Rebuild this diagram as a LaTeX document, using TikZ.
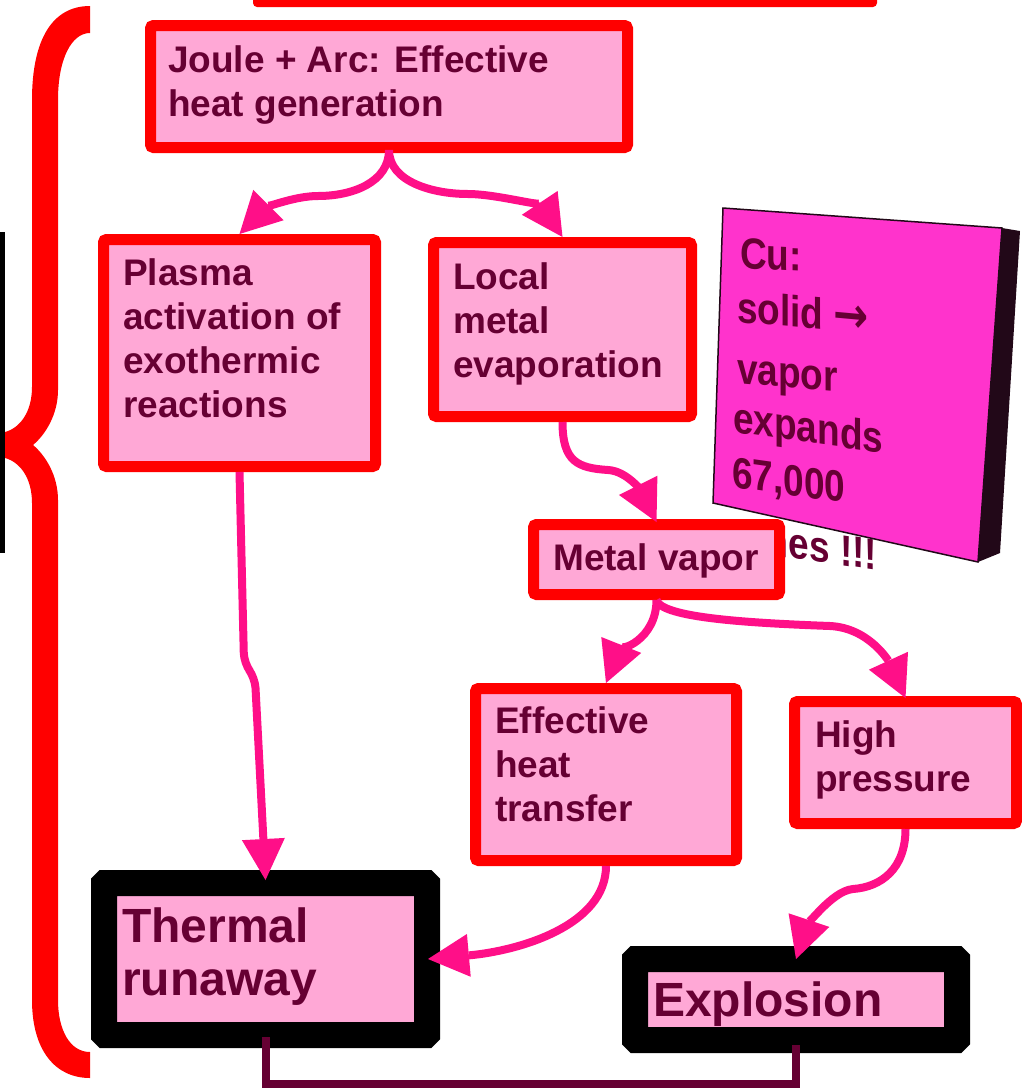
\documentclass[tikz,border=0pt]{standalone}
\usepackage{fontspec}
\usepackage{graphicx}
\setmainfont{Liberation Sans}
\newfontfamily\symfont{DejaVu Sans}
\usetikzlibrary{calc,arrows.meta}
\definecolor{boxred}{HTML}{FF0000}
\definecolor{boxpink}{HTML}{FFA8D6}
\definecolor{txtc}{HTML}{660033}
\definecolor{arrowpink}{HTML}{FF0F88}
\definecolor{cumag}{HTML}{FF33CC}
\definecolor{cudark}{HTML}{220818}
\newcommand{\tallt}[1]{\scalebox{1}[1.18]{#1}}
\tikzset{
  rbox/.style={draw=boxred, line width=11pt, fill=boxpink, rounded corners=3pt, inner sep=0pt},
  bbox/.style={draw=black, line width=26pt, fill=boxpink, rounded corners=1pt, inner sep=0pt},
  tx/.style={inner sep=0pt, anchor=north west, align=left, text=txtc, font=\fontsize{37}{44}\selectfont\bfseries},
  bigtx/.style={inner sep=0pt, anchor=north west, align=left, text=txtc, font=\fontsize{48}{53}\selectfont\bfseries},
  cutx/.style={inner sep=0pt, anchor=base west, yslant=#1, text=txtc, font=\fontsize{37}{44}\selectfont\bfseries},
  parrow/.style={draw=arrowpink, line width=8pt, -{Triangle[length=41pt,width=43pt,line width=0pt]}},
  mline/.style={draw=txtc, line width=8pt}
}
\begin{document}
\begin{tikzpicture}[x=1pt,y=-1pt]
\useasboundingbox (0,0) rectangle (1021,1090);
% left brace
\fill[boxred] (90,6) .. controls (52,6) and (32,40) .. (32,100) -- (32,387)
  .. controls (32,412) and (20,428) .. (5,432) -- (5,458)
  .. controls (20,462) and (32,478) .. (32,503) -- (32,1000)
  .. controls (32,1050) and (55,1078) .. (90,1078) -- (90,1052)
  .. controls (70,1052) and (58,1030) .. (58,1000) -- (58,500)
  .. controls (58,475) and (45,455) .. (33,445)
  .. controls (45,435) and (58,415) .. (58,390) -- (58,100)
  .. controls (58,58) and (72,33) .. (90,33) -- cycle;
% left black bar
\fill[black] (0,232) rectangle (5,553);
% top cut-off box edge
\fill[boxred, rounded corners=4pt] (253,-20) rectangle (877,7);
% Cu sticky note
\fill[cudark] (1002,228) -- (1020,231) -- (1000,553) -- (978,562) -- cycle;
\filldraw[fill=cumag, draw=cudark, line width=1.5pt] (723,208) -- (1002,228) -- (978,562) -- (713,503) -- cycle;
\node[cutx=-0.05] (c1) at (740,268) {\tallt{Cu:}};
\node[cutx=-0.09] (c2) at (737,322) {\tallt{solid {\symfont\bfseries\fontsize{42}{42}\selectfont →}}};
\node[cutx=-0.09] (c3) at (737,383) {\tallt{vapor}};
\node[cutx=-0.14] (c4) at (733,432) {\tallt{expands}};
\node[cutx=-0.14] (c5) at (732,487) {\tallt{67,000}};
\node[cutx=-0.14] (c6) at (733,550) {\tallt{times !!!}};
% boxes
\node[rbox, minimum width=477pt, minimum height=122pt] (j) at (389,86.5) {};
\node[rbox, minimum width=272pt, minimum height=227pt] (p) at (239.5,353) {};
\node[rbox, minimum width=258pt, minimum height=174pt] (l) at (562.5,329.5) {};
\node[rbox, minimum width=246pt, minimum height=70pt] (m) at (656.5,559.5) {};
\node[rbox, minimum width=261pt, minimum height=172pt] (e) at (606,774.5) {};
\node[rbox, minimum width=222pt, minimum height=122pt] (h) at (905.5,762.5) {};
\node[bbox, minimum width=323pt, minimum height=152pt] (t) at (265.5,959) {};
\node[bbox, minimum width=322pt, minimum height=81pt] (x) at (796,999.5) {};
% texts
\node[tx] (jt) at (168,45) {\rule{0pt}{27pt}Joule + Arc: Effective\\heat generation};
\node[tx] (pt) at (123,258) {\rule{0pt}{27pt}Plasma\\activation of\\exothermic\\reactions};
\node[tx] (lt) at (453,262) {\rule{0pt}{27pt}Local\\metal\\evaporation};
\node[tx] (mt) at (553,543) {\rule{0pt}{27pt}Metal vapor};
\node[tx] (et) at (495,706) {\rule{0pt}{27pt}Effective\\heat\\transfer};
\node[tx] (ht) at (815,720) {\rule{0pt}{27pt}High\\pressure};
\node[bigtx] (tt) at (122,907) {\rule{0pt}{35pt}Thermal\\runaway};
\node[bigtx] (xt) at (653,981) {\rule{0pt}{35pt}Explosion};
% connectors
\draw[parrow] ($(j.south)+(0,-3)$) .. controls +(0,32) and +(35,0) .. (318,196) .. controls +(-25,0) and +(25,-25) .. (p.north);
\draw[parrow] ($(j.south)+(0,-3)$) .. controls +(0,32) and +(-35,0) .. (468,194) .. controls +(28,0) and +(-20,-30) .. (l.north);
\draw[parrow] (l.south) .. controls +(0,40) and +(-30,-2) .. (608,470) .. controls +(20,1) and +(-14,-28) .. ($(m.north)+(0,3)$);
\draw[parrow] (m.south) .. controls +(0,40) and +(12,-30) .. (e.north);
\draw[parrow] (m.south) .. controls +(5,18) and +(-80,-3) .. (830,626) .. controls +(40,2) and +(-16,-35) .. ($(h.north)+(0,2)$);
\draw[parrow, rounded corners=10pt] (p.south) -- (244,663) -- (255,678) -- ($(t.north)+(0,10)$);
\draw[parrow] (e.south) .. controls +(0,60) and +(90,-8) .. ($(t.east)+(-12,0)$);
\draw[parrow] (h.south) .. controls +(0,40) and +(28,-2) .. (853,889) .. controls +(-22,2) and +(10,-30) .. ($(x.north)+(0,13)$);
\draw[mline] ($(t.south)+(0,-11)$) -- ++(0,47) -| ($(x.south)+(0,-8)$);
\end{tikzpicture}
\end{document}
